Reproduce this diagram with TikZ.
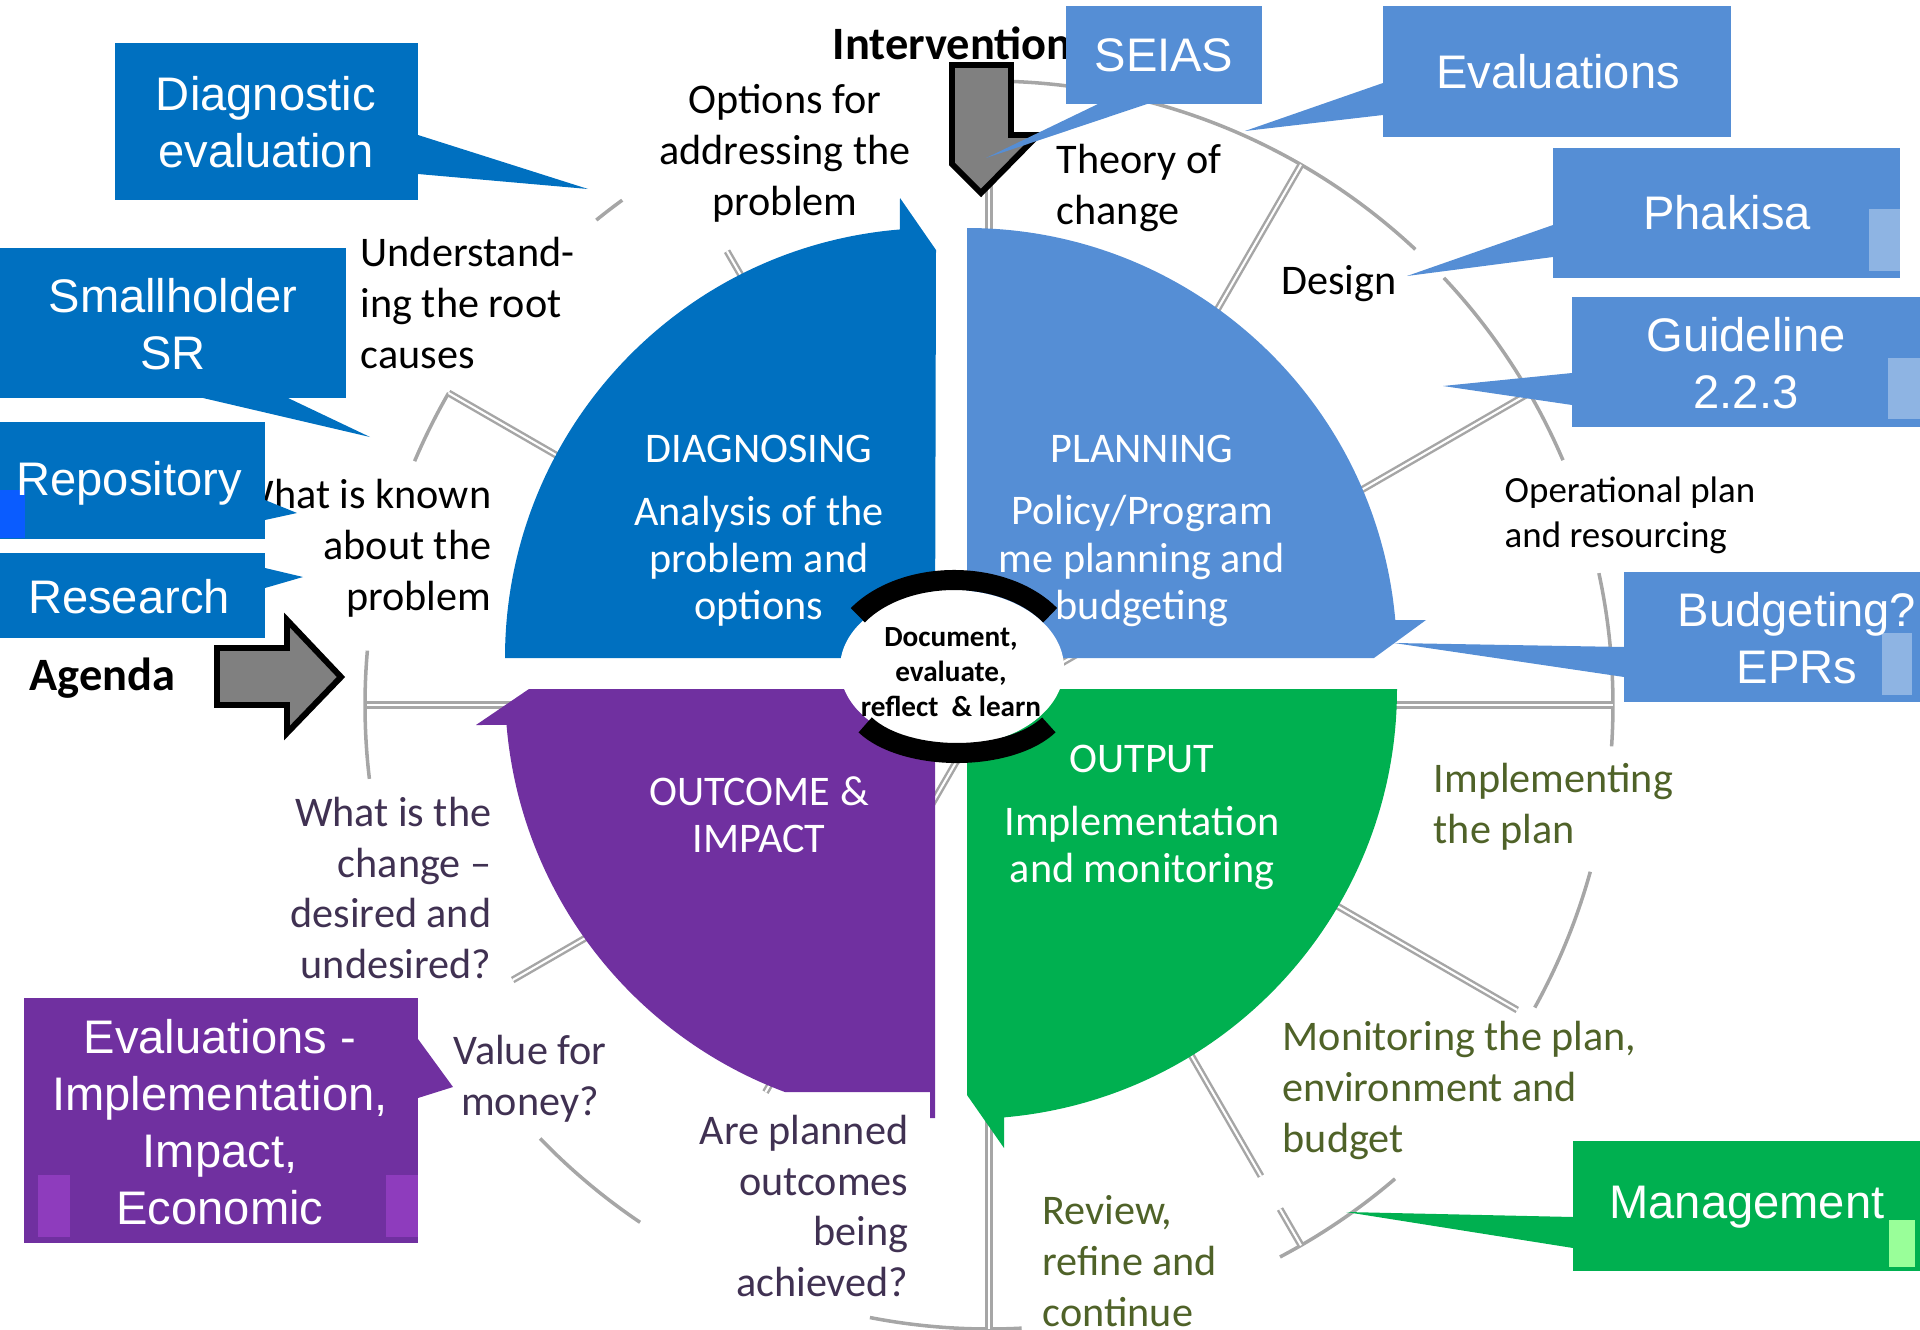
\documentclass[tikz,border=0pt]{standalone}
\usepackage{fontspec}
\setmainfont{Carlito}
\newfontfamily\calloutfont{Liberation Sans}
\definecolor{diagblue}{HTML}{0070C0}
\definecolor{planblue}{HTML}{558ED5}
\definecolor{outgreen}{HTML}{00B050}
\definecolor{outpurple}{HTML}{7030A0}
\definecolor{ringgray}{HTML}{A6A6A6}
\definecolor{arrowgray}{HTML}{808080}
\definecolor{reviewolive}{HTML}{4F6228}
\definecolor{askpurple}{HTML}{403152}
\definecolor{handleblue}{HTML}{8EB4E3}
\definecolor{handlebright}{HTML}{0A5CFF}
\definecolor{handlepurple}{HTML}{8E3CBD}
\definecolor{handlegreen}{HTML}{99FF99}
\begin{document}
\begin{tikzpicture}[
	x=0.01cm,
	y=-0.01cm,
	line join=round,
	ring/.style={draw=ringgray, line width=1pt},
	spoke/.style={draw=ringgray, line width=0.7pt, double=white, double distance=0.6pt},
	word/.style={inner sep=0pt, font=\fontsize{12}{14.5}\selectfont},
	inword/.style={inner sep=0pt, text=white, align=center, font=\fontsize{12}{13.4}\selectfont},
	callouttext/.style={inner sep=0pt, text=white, align=center, font=\calloutfont\fontsize{13.4}{16.2}\selectfont},
	boldword/.style={inner sep=0pt, anchor=west, font=\bfseries\fontsize{13.2}{16}\selectfont},
	blockarrow/.style={fill=arrowgray, draw=black, line width=1.7pt, line join=miter},
	cycarrow/.style={draw=black, line width=5.7pt}
	]
	\useasboundingbox (0,0) rectangle (1920,1330);
	\coordinate (hub) at (989,705);
	% wheel behind the quadrants
	\foreach \a/\b in {-93.6/-46.9, -43.2/-23.1, -12.2/3.8, 15.5/29, 49.4/62.2, 87/101, 124/136, 173.2/185, 203/210, 231/234}
		\draw[ring] (hub) ++(\a:624) arc[start angle=\a, end angle=\b, radius=624];
	\foreach \a/\t in {-90/624, -60/624, -30/624, 0/624, 30/610, 60/544, 90/624, 120/447, 150/550, 180/622, 210/624, 240/524}
		\draw[spoke] (hub) -- ++(\a:\t);
	\draw[spoke] (hub) ++(60:582) -- ++(60:42);
	\draw[blockarrow] (952,65) -- (1011,65) -- (1011,135) -- (1038,135) -- (981,193) -- (952,164) -- cycle;
	\node[boldword] (interv) at (832,43) {Intervention};
	% texts round the wheel
	\node[word, align=center] (options) at (785,153) {Options for\\addressing the\\problem};
	\node[word, anchor=west, align=left] (theory) at (1056,188) {Theory of\\change};
	\node[word] (design) at (1339,284) {Design};
	\node[word, anchor=west, align=left, font=\fontsize{10.5}{12.8}\selectfont] (oper) at (1504,515) {Operational plan\\and resourcing};
	\node[word, anchor=west, align=left, text=reviewolive] (impl) at (1433,807) {Implementing\\the plan};
	\node[word, anchor=west, align=left, text=reviewolive] (monit) at (1282,1090) {Monitoring the plan,\\environment and\\budget};
	\node[word, anchor=west, align=left, text=reviewolive] (review) at (1042,1261) {Review,\\refine and\\continue};
	\node[word, anchor=east, align=right, text=askpurple] (planned) at (909,1206) {Are planned\\outcomes\\being\\achieved?};
	\node[word, align=center, text=askpurple] (money) at (530,1079) {Value for\\money?};
	\node[word, anchor=east, align=right, text=askpurple] (change) at (492,888) {What is the\\change –\\desired and\\undesired?};
	\node[word, anchor=east, align=right] (known) at (492,548) {What is known\\about the\\problem};
	\node[word, anchor=west, align=left] (causes) at (360,303) {Understand-\\ing the root\\causes};
	% quadrants
	\fill[diagblue] (935,658) -- (505,658) arc[start angle=180, end angle=265.3, radius=430] -- (900,198) -- (936,250) -- cycle;
	\fill[planblue] (967,658) -- (967,228) arc[start angle=-90, end angle=-5.07, radius=430] -- (1426,620) -- (1374,658) -- cycle;
	\fill[outgreen] (967,689) -- (1397,689) arc[start angle=0, end angle=85.06, radius=430] -- (1004,1148) -- (967,1095) -- cycle;
	\begin{scope}
		\clip (400,600) rectangle (930,1092) (930,600) rectangle (940,1118);
		\fill[outpurple] (935,689) -- (935,1119) arc[start angle=90, end angle=175.2, radius=430] -- (476,725) -- (529,689) -- cycle;
	\end{scope}
	\node[inword] (diaghead) at (759,449) {DIAGNOSING};
	\node[inword] (diagbody) at (759,561) {Analysis of the\\problem and\\options};
	\node[inword] (planhead) at (1142,449) {PLANNING};
	\node[inword] (planbody) at (1142,561) {Policy/Program\\me planning and\\budgeting};
	\node[inword] (outhead) at (1142,759) {OUTPUT};
	\node[inword] (outbody) at (1142,848) {Implementation\\and monitoring};
	\node[inword] (impact) at (759,815) {OUTCOME \&\\IMPACT};
	% centre
	\fill[white] (952,668) ellipse[x radius=112, y radius=78];
	\draw[cycarrow] (954,660) ++(214:116 and 80) arc[start angle=214, end angle=326, x radius=116, y radius=80];
	\draw[cycarrow] (957,700) ++(28:104 and 53) arc[start angle=28, end angle=152, x radius=104, y radius=53];
	\node[inner sep=0pt, align=center, font=\bfseries\fontsize{8.3}{10}\selectfont] (learn) at (951,672) {Document,\\evaluate,\\reflect\ \ \& learn};
	% callouts
	\fill[diagblue] (115,43) rectangle (418,200);
	\fill[diagblue] (418,135) -- (588,189) -- (418,174) -- cycle;
	\node[callouttext] (diageval) at (266,122) {Diagnostic\\evaluation};
	\fill[diagblue] (0,248) rectangle (346,398);
	\fill[diagblue] (203,398) -- (370,437) -- (288,398) -- cycle;
	\node[callouttext] (smallholder) at (173,324) {Smallholder\\SR};
	\fill[diagblue] (0,422) rectangle (265,539);
	\fill[diagblue] (265,500) -- (297,513) -- (265,520) -- cycle;
	\fill[handlebright] (0,490) rectangle (25,538);
	\node[callouttext] (repo) at (129,483) {Repository};
	\fill[diagblue] (0,553) rectangle (265,638);
	\fill[diagblue] (265,568) -- (303,577) -- (265,588) -- cycle;
	\node[callouttext] (research) at (129,597) {Research};
	\fill[planblue] (1066,6) rectangle (1262,104);
	\fill[planblue] (1098,104) -- (986,158) -- (1147,104) -- cycle;
	\node[callouttext] (seias) at (1164,55) {SEIAS};
	\fill[planblue] (1383,6) rectangle (1731,137);
	\fill[planblue] (1383,83) -- (1245,131) -- (1383,115) -- cycle;
	\node[callouttext] (evals) at (1558,72) {Evaluations};
	\fill[planblue] (1553,148) rectangle (1900,278);
	\fill[planblue] (1553,225) -- (1407,276) -- (1553,257) -- cycle;
	\fill[handleblue] (1869,209) rectangle (1900,271);
	\node[callouttext] (phakisa) at (1727,213) {Phakisa};
	\fill[planblue] (1572,297) rectangle (1920,427);
	\fill[planblue] (1572,373) -- (1443,386) -- (1572,405) -- cycle;
	\fill[handleblue] (1888,358) rectangle (1920,419);
	\node[callouttext] (guide) at (1746,363) {Guideline\\2.2.3};
	\fill[planblue] (1624,572) rectangle (1920,702);
	\fill[planblue] (1624,647) -- (1394,643) -- (1624,677) -- cycle;
	\fill[handleblue] (1882,633) rectangle (1912,695);
	\node[callouttext] (budget) at (1797,638) {Budgeting?\\EPRs};
	\fill[outpurple] (24,998) rectangle (418,1243);
	\fill[outpurple] (418,1039) -- (453,1087) -- (418,1098) -- cycle;
	\fill[handlepurple] (38,1175) rectangle (70,1237);
	\fill[handlepurple] (386,1175) rectangle (418,1237);
	\node[callouttext] (evalimpact) at (220,1122) {Evaluations -\\Implementation,\\Impact,\\Economic};
	\fill[outgreen] (1573,1141) rectangle (1920,1271);
	\fill[outgreen] (1573,1217) -- (1346,1212) -- (1573,1248) -- cycle;
	\fill[handlegreen] (1889,1220) rectangle (1915,1267);
	\node[callouttext] (manage) at (1747,1207) {Management};
	% agenda
	\draw[blockarrow] (217,648) -- (287,648) -- (287,620) -- (341,677) -- (287,733) -- (287,705) -- (217,705) -- cycle;
	\node[boldword] (agenda) at (29,678) {Agenda};
\end{tikzpicture}
\end{document}
